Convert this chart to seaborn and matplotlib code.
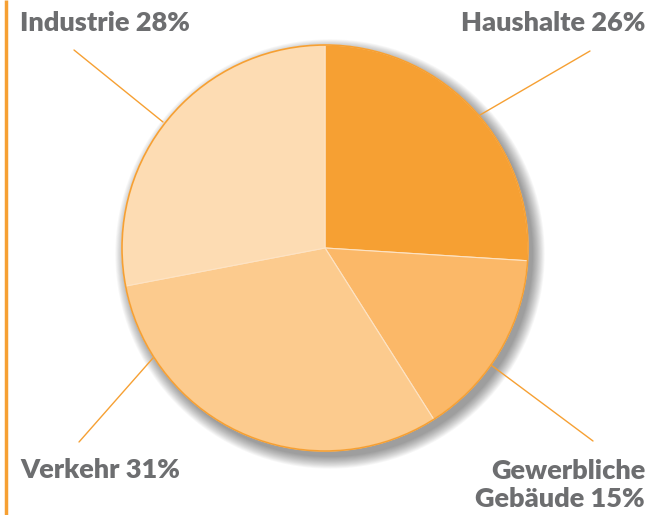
import matplotlib
matplotlib.use("Agg")
import matplotlib.pyplot as plt
import seaborn as sns
from matplotlib.patches import Circle

# Daten
sektoren = ["Haushalte", "Gewerbliche\nGebäude", "Verkehr", "Industrie"]
anteile = [26, 15, 31, 28]
farben = ["#F6A033", "#FBB868", "#FCCB8E", "#FDDCB3"]

sns.set_style("white")
plt.rcParams['font.family'] = ['Lato', 'DejaVu Sans']

fig = plt.figure(figsize=(6.51, 5.15), dpi=100)
ax = fig.add_axes([0, 0, 1, 1])
ax.set_xlim(0, 651)
ax.set_ylim(515, 0)
ax.set_aspect('equal')
ax.axis('off')

cx, cy, r = 325, 248, 203

# Schatten
for i in range(14):
    ax.add_patch(Circle((cx + 5, cy + 6), r + i * 0.9, color='black',
                        alpha=0.03, lw=0, zorder=1))
ax.add_patch(Circle((cx, cy), r, color='white', lw=0, zorder=1.5))

# y-Achse ist umgedreht: Start -90 gegen den Uhrzeigersinn = oben, im Uhrzeigersinn im Bild
wedges, _ = ax.pie(anteile, colors=farben, startangle=-90, counterclock=True,
                   center=(cx, cy), radius=r,
                   wedgeprops=dict(edgecolor='#FDE3C4', linewidth=0.8))
for w in wedges:
    w.set_zorder(2)
ax.add_patch(Circle((cx, cy), r, fill=False, edgecolor='#F6A033', lw=1.2, zorder=3))
ax.set_xlim(0, 651)
ax.set_ylim(515, 0)

# Linke Linie
ax.plot([5.5, 5.5], [0, 515], color='#F6A033', lw=2.5, solid_capstyle='butt')

# Führungslinien
linien = [((590, 51), (480, 115)), ((593, 441), (491, 365)),
          ((79, 442), (153, 358)), ((74, 50), (163, 122))]
for (x0, y0), (x1, y1) in linien:
    ax.plot([x0, x1], [y0, y1], color='#F6A033', lw=1, zorder=4)

grau = '#6D6E70'
kw = dict(color=grau, fontsize=19.5, fontweight='heavy')
ax.text(20, 23, f"Industrie {anteile[3]}%", ha='left', va='center', **kw)
ax.text(645, 23, f"Haushalte {anteile[0]}%", ha='right', va='center', **kw)
ax.text(20, 470, f"Verkehr {anteile[2]}%", ha='left', va='center', **kw)
ax.text(645, 485, f"{sektoren[1]} {anteile[1]}%", ha='right', va='center',
        linespacing=1.2, **kw)

fig.savefig("out.png", dpi=100)
